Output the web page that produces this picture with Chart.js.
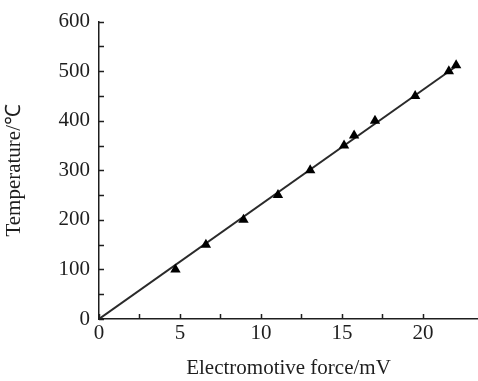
<!DOCTYPE html>
<html>
<head>
<meta charset="utf-8">
<script src="https://cdn.jsdelivr.net/npm/chart.js@4/dist/chart.umd.min.js"></script>
<style>
  html, body { margin: 0; padding: 0; background: #fff; }
  #wrap { width: 478px; height: 381px; position: relative; }
</style>
</head>
<body>
<div id="wrap"><canvas id="c"></canvas></div>
<script>
// Calibration points: thermocouple EMF (mV) vs temperature (°C)
const emf = [4.72, 6.6, 8.92, 11.05, 13.04, 15.13, 15.75, 17.04, 19.52, 21.6, 22.05];
const temperature = [100, 150, 200, 250, 300, 350, 370, 400, 450, 500, 512];

// Fitted calibration line end points
const fitEmf = [0, 22.1];
const fitTemp = [0, 511];

// Axis settings
const xMin = 0, xMax = 23.4, xStep = 2.5;
const yMin = 0, yMax = 600, yStep = 50;
const xMajorLabels = [0, 5, 10, 15, 20];
const yMajorLabels = [0, 100, 200, 300, 400, 500, 600];

const ink = '#1e1e1e';
const serif = '"Liberation Serif", "Times New Roman", serif';
const fontSize = 21;

const points = emf.map((v, i) => ({ x: v, y: temperature[i] }));
const fit = fitEmf.map((v, i) => ({ x: v, y: fitTemp[i] }));

// Keep only ticks that fall on the step grid (drops the bare axis max)
const onStep = step => s => {
  s.ticks = s.ticks.filter(t => Math.abs(t.value / step - Math.round(t.value / step)) < 1e-6);
};

// Short inward tick marks along both axes
const inwardTicks = {
  id: 'inwardTicks',
  afterDatasetsDraw(chart) {
    const { ctx, scales: { x, y }, chartArea } = chart;
    const len = 5;
    ctx.save();
    ctx.strokeStyle = ink;
    ctx.lineWidth = 1.5;
    ctx.beginPath();
    x.ticks.forEach(t => {
      const px = Math.round(x.getPixelForValue(t.value)) + 0.5;
      ctx.moveTo(px, chartArea.bottom);
      ctx.lineTo(px, chartArea.bottom - len);
    });
    y.ticks.forEach(t => {
      const py = Math.round(y.getPixelForValue(t.value)) + 0.5;
      ctx.moveTo(chartArea.left, py);
      ctx.lineTo(chartArea.left + len, py);
    });
    ctx.stroke();
    ctx.restore();
  }
};

new Chart(document.getElementById('c'), {
  type: 'scatter',
  data: {
    datasets: [
      {
        data: fit,
        showLine: true,
        borderColor: '#2a2a2a',
        borderWidth: 2,
        pointRadius: 0,
        fill: false,
        order: 2
      },
      {
        data: points,
        pointStyle: 'triangle',
        pointRadius: 6,
        backgroundColor: '#000',
        borderColor: '#000',
        borderWidth: 0,
        showLine: false,
        order: 1
      }
    ]
  },
  options: {
    responsive: true,
    maintainAspectRatio: false,
    animation: false,
    layout: { autoPadding: false, padding: { top: 20, right: 0, left: 0, bottom: 0 } },
    plugins: { legend: { display: false }, tooltip: { enabled: false } },
    scales: {
      x: {
        type: 'linear',
        min: xMin,
        max: xMax,
        grid: { display: false, drawTicks: false },
        border: { display: true, color: ink, width: 1.5 },
        ticks: {
          stepSize: xStep,
          padding: 2,
          color: ink,
          maxRotation: 0,
          autoSkip: false,
          font: { family: serif, size: fontSize },
          callback: v => xMajorLabels.includes(v) ? String(v) : ''
        },
        title: {
          display: true,
          text: 'Electromotive force/mV',
          color: ink,
          font: { family: serif, size: fontSize },
          padding: { top: 4, bottom: 0 }
        },
        afterBuildTicks: onStep(xStep),
        afterFit: s => { s.height = 62; }
      },
      y: {
        type: 'linear',
        min: yMin,
        max: yMax,
        grid: { display: false, drawTicks: false },
        border: { display: true, color: ink, width: 1.5 },
        ticks: {
          stepSize: yStep,
          padding: 9,
          color: ink,
          autoSkip: false,
          font: { family: serif, size: fontSize },
          callback: v => yMajorLabels.includes(v) ? String(v) : ''
        },
        title: {
          display: true,
          text: 'Temperature/℃',
          color: ink,
          font: { family: serif, size: fontSize },
          padding: { top: 2, bottom: 4 }
        },
        afterBuildTicks: onStep(yStep),
        afterFit: s => { s.width = 99; }
      }
    }
  },
  plugins: [inwardTicks]
});
</script>
</body>
</html>
